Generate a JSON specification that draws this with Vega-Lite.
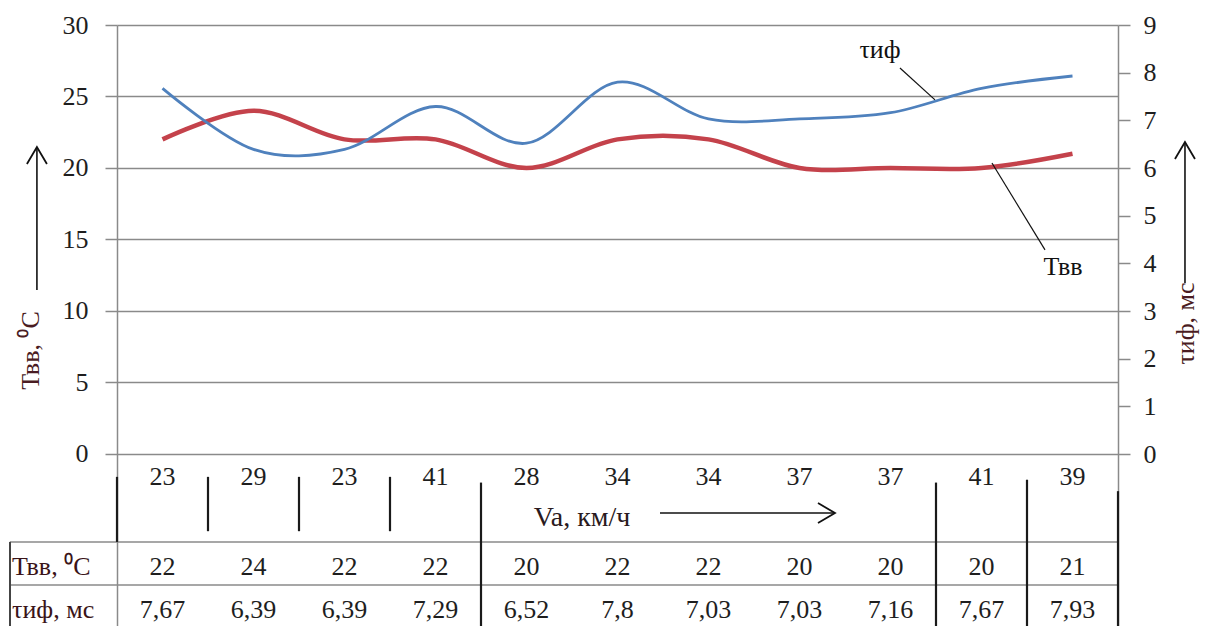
{
  "$schema": "https://vega.github.io/schema/vega-lite/v6.json",
  "width": 1001,
  "height": 601,
  "autosize": "none",
  "padding": {"left": 117, "top": 25, "right": 93, "bottom": 0},
  "background": "white",
  "config": {
    "view": {"stroke": null},
    "font": "Liberation Serif",
    "locale": {"number": {"decimal": ",", "thousands": " ", "grouping": [3], "currency": ["", ""]}},
    "text": {"font": "Liberation Serif", "fontSize": 26, "color": "#1e1e1e"},
    "rule": {"color": "#8a8a8a", "strokeWidth": 1.5}
  },
  "data": {
    "values": [
      {"i": 1, "va": 23, "t": 22, "tau": 7.67},
      {"i": 2, "va": 29, "t": 24, "tau": 6.39},
      {"i": 3, "va": 23, "t": 22, "tau": 6.39},
      {"i": 4, "va": 41, "t": 22, "tau": 7.29},
      {"i": 5, "va": 28, "t": 20, "tau": 6.52},
      {"i": 6, "va": 34, "t": 22, "tau": 7.8},
      {"i": 7, "va": 34, "t": 22, "tau": 7.03},
      {"i": 8, "va": 37, "t": 20, "tau": 7.03},
      {"i": 9, "va": 37, "t": 20, "tau": 7.16},
      {"i": 10, "va": 41, "t": 20, "tau": 7.67},
      {"i": 11, "va": 39, "t": 21, "tau": 7.93}
    ]
  },
  "layer": [
    {
      "layer": [
        {
          "mark": {"type": "line", "interpolate": "cardinal", "color": "#c4424b", "strokeWidth": 4.5},
          "encoding": {
            "x": {
              "field": "i", "type": "quantitative",
              "scale": {"domain": [0.5, 11.5], "nice": false, "zero": false},
              "axis": {
                "orient": "bottom", "values": [0.5, 1.5, 2.5, 3.5, 4.5, 5.5, 6.5, 7.5, 8.5, 9.5, 10.5, 11.5],
                "grid": true, "gridColor": "#8a8a8a", "gridWidth": 1.5, "gridOpacity": 1,
                "labels": false, "ticks": false, "domain": false, "title": null
              }
            },
            "y": {
              "field": "t", "type": "quantitative",
              "scale": {"domain": [-12.03, 30], "nice": false, "zero": false},
              "axis": {
                "orient": "left", "values": [0, 5, 10, 15, 20, 25, 30],
                "grid": true, "gridColor": "#8a8a8a", "gridWidth": 1.5, "gridOpacity": 1,
                "tickSize": 12, "tickColor": "#8a8a8a", "tickWidth": 1.5,
                "domainColor": "#8a8a8a", "domainWidth": 1.5,
                "labelPadding": 17, "labelFont": "Liberation Serif", "labelFontSize": 26, "labelColor": "#1e1e1e",
                "title": "Твв, ⁰C", "titleX": -87, "titleY": 325, "titleAngle": 270,
                "titleAlign": "center", "titleBaseline": "middle",
                "titleFont": "Liberation Serif", "titleFontSize": 26, "titleFontWeight": "normal", "titleColor": "#4a1c22"
              }
            }
          }
        },
        {
          "data": {"values": [{}]},
          "mark": {"type": "rect", "color": "white"},
          "encoding": {
            "x": {"datum": 5.1, "type": "quantitative"}, "x2": {"datum": 9.25},
            "y": {"datum": -2.8, "type": "quantitative"}, "y2": {"datum": -6.08}
          }
        },
        {
          "mark": {"type": "text", "baseline": "middle", "align": "center"},
          "encoding": {
            "x": {"field": "i", "type": "quantitative"},
            "y": {"datum": -1.61, "type": "quantitative"},
            "text": {"field": "va", "type": "quantitative"}
          }
        },
        {
          "mark": {"type": "text", "baseline": "middle", "align": "center"},
          "encoding": {
            "x": {"field": "i", "type": "quantitative"},
            "y": {"datum": -7.9, "type": "quantitative"},
            "text": {"field": "t", "type": "quantitative"}
          }
        },
        {
          "mark": {"type": "text", "baseline": "middle", "align": "center"},
          "encoding": {
            "x": {"field": "i", "type": "quantitative"},
            "y": {"datum": -10.9, "type": "quantitative"},
            "text": {"field": "tau", "type": "quantitative", "format": ".2~f"}
          }
        },
        {
          "data": {"values": [{}]},
          "mark": {"type": "rule"},
          "encoding": {
            "x": {"datum": -0.676, "type": "quantitative"}, "x2": {"datum": 11.5},
            "y": {"datum": -6.15, "type": "quantitative"}
          }
        },
        {
          "data": {"values": [{}]},
          "mark": {"type": "rule"},
          "encoding": {
            "x": {"datum": -0.676, "type": "quantitative"}, "x2": {"datum": 11.5},
            "y": {"datum": -9.16, "type": "quantitative"}
          }
        },
        {
          "data": {"values": [{}]},
          "mark": {"type": "rule", "color": "#444444", "strokeWidth": 2},
          "encoding": {
            "x": {"datum": -0.676, "type": "quantitative"},
            "y": {"datum": -6.15, "type": "quantitative"}, "y2": {"datum": -12.03}
          }
        },
        {
          "data": {"values": [{}]},
          "mark": {"type": "text", "align": "left", "baseline": "middle", "text": "Твв, ⁰C", "color": "#3a1418"},
          "encoding": {
            "x": {"datum": -0.654, "type": "quantitative"},
            "y": {"datum": -7.9, "type": "quantitative"}
          }
        },
        {
          "data": {"values": [{}]},
          "mark": {"type": "text", "align": "left", "baseline": "middle", "text": "τиф, мс", "color": "#3a1418"},
          "encoding": {
            "x": {"datum": -0.654, "type": "quantitative"},
            "y": {"datum": -10.9, "type": "quantitative"}
          }
        },
        {
          "data": {"values": [{}]},
          "mark": {"type": "rule", "color": "#1a1a1a", "strokeWidth": 2.2},
          "encoding": {"x": {"datum": 0.5, "type": "quantitative"}, "y": {"datum": -1.6, "type": "quantitative"}, "y2": {"datum": -6.15}}
        },
        {
          "data": {"values": [{}]},
          "mark": {"type": "rule", "color": "#1a1a1a", "strokeWidth": 2.2},
          "encoding": {"x": {"datum": 1.5, "type": "quantitative"}, "y": {"datum": -1.6, "type": "quantitative"}, "y2": {"datum": -5.4}}
        },
        {
          "data": {"values": [{}]},
          "mark": {"type": "rule", "color": "#1a1a1a", "strokeWidth": 2.2},
          "encoding": {"x": {"datum": 2.5, "type": "quantitative"}, "y": {"datum": -1.6, "type": "quantitative"}, "y2": {"datum": -5.4}}
        },
        {
          "data": {"values": [{}]},
          "mark": {"type": "rule", "color": "#1a1a1a", "strokeWidth": 2.2},
          "encoding": {"x": {"datum": 3.5, "type": "quantitative"}, "y": {"datum": -1.6, "type": "quantitative"}, "y2": {"datum": -5.4}}
        },
        {
          "data": {"values": [{}]},
          "mark": {"type": "rule", "color": "#1a1a1a", "strokeWidth": 2.2},
          "encoding": {"x": {"datum": 4.5, "type": "quantitative"}, "y": {"datum": -2.0, "type": "quantitative"}, "y2": {"datum": -12.03}}
        },
        {
          "data": {"values": [{}]},
          "mark": {"type": "rule", "color": "#1a1a1a", "strokeWidth": 2.2},
          "encoding": {"x": {"datum": 9.5, "type": "quantitative"}, "y": {"datum": -2.0, "type": "quantitative"}, "y2": {"datum": -12.03}}
        },
        {
          "data": {"values": [{}]},
          "mark": {"type": "rule", "color": "#1a1a1a", "strokeWidth": 2.2},
          "encoding": {"x": {"datum": 10.5, "type": "quantitative"}, "y": {"datum": -1.8, "type": "quantitative"}, "y2": {"datum": -12.03}}
        },
        {
          "data": {"values": [{}]},
          "mark": {"type": "rule", "color": "#1a1a1a", "strokeWidth": 2.2},
          "encoding": {"x": {"datum": 11.5, "type": "quantitative"}, "y": {"datum": -2.6, "type": "quantitative"}, "y2": {"datum": -12.03}}
        },
        {
          "data": {"values": [{}]},
          "mark": {"type": "text", "align": "center", "baseline": "middle", "text": "Va, км/ч", "fontSize": 28, "color": "#2a1a20"},
          "encoding": {"x": {"datum": 5.61, "type": "quantitative"}, "y": {"datum": -4.48, "type": "quantitative"}}
        },
        {
          "data": {"values": [{}]},
          "mark": {"type": "rule", "color": "#111111", "strokeWidth": 1.6},
          "encoding": {"x": {"datum": 6.467, "type": "quantitative"}, "x2": {"datum": 8.39}, "y": {"datum": -4.13, "type": "quantitative"}}
        },
        {
          "data": {"values": [{}]},
          "mark": {"type": "point", "shape": "M-1,1.7L0,0L1,1.7", "filled": false, "stroke": "#111111", "strokeWidth": 1.8, "size": 400, "opacity": 1, "angle": 90},
          "encoding": {"x": {"datum": 8.39, "type": "quantitative"}, "y": {"datum": -4.13, "type": "quantitative"}}
        },
        {
          "data": {"values": [{}]},
          "mark": {"type": "rule", "color": "#111111", "strokeWidth": 1.6},
          "encoding": {"x": {"datum": -0.38, "type": "quantitative"}, "y": {"datum": 11.47, "type": "quantitative"}, "y2": {"datum": 21.47}}
        },
        {
          "data": {"values": [{}]},
          "mark": {"type": "point", "shape": "M-1,1.7L0,0L1,1.7", "filled": false, "stroke": "#111111", "strokeWidth": 1.8, "size": 400, "opacity": 1},
          "encoding": {"x": {"datum": -0.38, "type": "quantitative"}, "y": {"datum": 21.47, "type": "quantitative"}}
        },
        {
          "data": {"values": [{}]},
          "mark": {"type": "rule", "color": "#111111", "strokeWidth": 1.6},
          "encoding": {"x": {"datum": 12.236, "type": "quantitative"}, "y": {"datum": 11.96, "type": "quantitative"}, "y2": {"datum": 21.82}}
        },
        {
          "data": {"values": [{}]},
          "mark": {"type": "point", "shape": "M-1,1.7L0,0L1,1.7", "filled": false, "stroke": "#111111", "strokeWidth": 1.8, "size": 400, "opacity": 1},
          "encoding": {"x": {"datum": 12.236, "type": "quantitative"}, "y": {"datum": 21.82, "type": "quantitative"}}
        },
        {
          "data": {"values": [{}]},
          "mark": {"type": "text", "align": "center", "baseline": "middle", "text": "τиф", "color": "#111111"},
          "encoding": {"x": {"datum": 8.885, "type": "quantitative"}, "y": {"datum": 28.25, "type": "quantitative"}}
        },
        {
          "data": {"values": [{}]},
          "mark": {"type": "rule", "color": "#111111", "strokeWidth": 1.2},
          "encoding": {"x": {"datum": 9.104, "type": "quantitative"}, "x2": {"datum": 9.489}, "y": {"datum": 26.99, "type": "quantitative"}, "y2": {"datum": 24.76}}
        },
        {
          "data": {"values": [{}]},
          "mark": {"type": "text", "align": "center", "baseline": "middle", "text": "Твв", "color": "#111111"},
          "encoding": {"x": {"datum": 10.896, "type": "quantitative"}, "y": {"datum": 13.08, "type": "quantitative"}}
        },
        {
          "data": {"values": [{}]},
          "mark": {"type": "rule", "color": "#111111", "strokeWidth": 1.2},
          "encoding": {"x": {"datum": 10.115, "type": "quantitative"}, "x2": {"datum": 10.698}, "y": {"datum": 20.35, "type": "quantitative"}, "y2": {"datum": 14.27}}
        }
      ]
    },
    {
      "mark": {"type": "line", "interpolate": "cardinal", "color": "#4f81bd", "strokeWidth": 2.8},
      "encoding": {
        "x": {"field": "i", "type": "quantitative", "scale": {"domain": [0.5, 11.5], "nice": false, "zero": false}, "axis": null},
        "y": {
          "field": "tau", "type": "quantitative",
          "scale": {"domain": [-3.608, 9], "nice": false, "zero": false},
          "axis": {
            "orient": "right", "values": [0, 1, 2, 3, 4, 5, 6, 7, 8, 9],
            "grid": false,
            "tickSize": 12, "tickColor": "#8a8a8a", "tickWidth": 1.5,
            "domainColor": "#8a8a8a", "domainWidth": 1.5,
            "labelPadding": 13, "labelFont": "Liberation Serif", "labelFontSize": 26, "labelColor": "#1e1e1e",
            "title": "τиф, мс", "titleX": 67, "titleY": 298, "titleAngle": 270,
            "titleAlign": "center", "titleBaseline": "middle",
            "titleFont": "Liberation Serif", "titleFontSize": 26, "titleFontWeight": "normal", "titleColor": "#4a1c22"
          }
        }
      }
    }
  ],
  "resolve": {"scale": {"y": "independent"}}
}
